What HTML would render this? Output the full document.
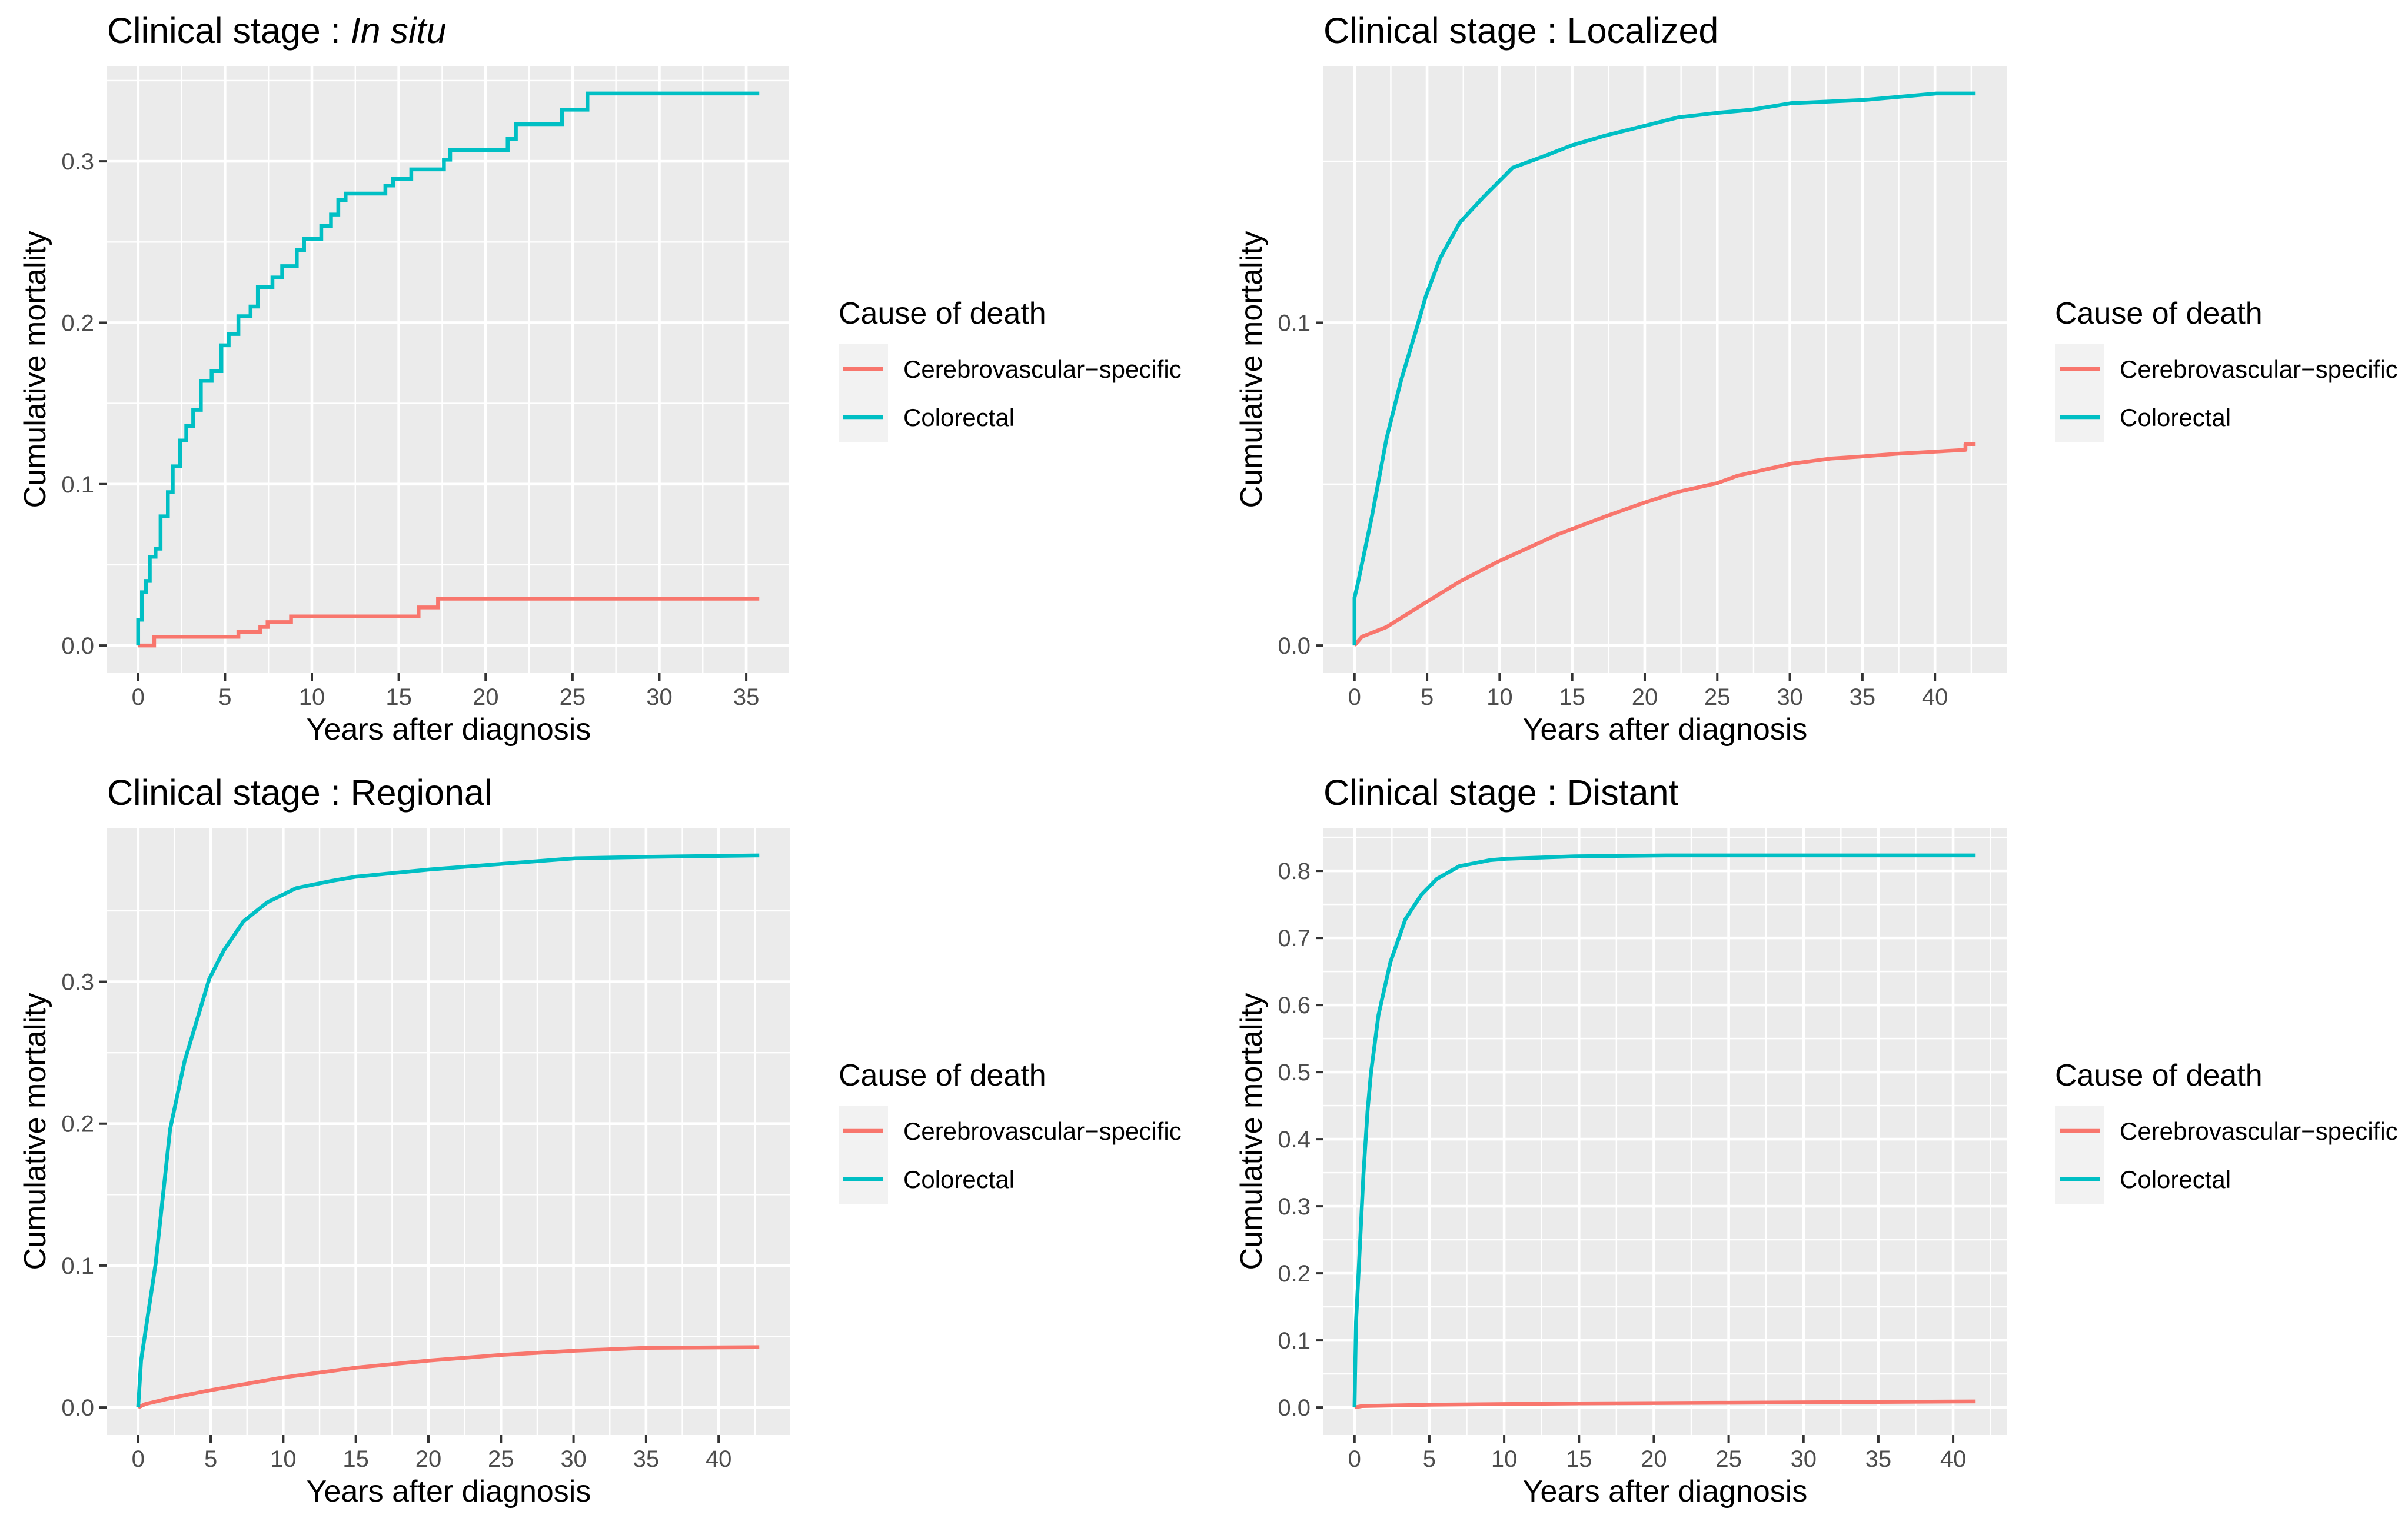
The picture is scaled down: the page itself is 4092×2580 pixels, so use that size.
<!DOCTYPE html>
<html><head><meta charset="utf-8"><style>
html,body{margin:0;padding:0;background:#fff;}
svg{display:block;font-family:"Liberation Sans",Arial,sans-serif;}
</style></head><body>
<svg id="fig" width="4092" height="2580" viewBox="0 0 4092 2580" xmlns="http://www.w3.org/2000/svg"></svg>
<script>
// ---- Panel data (years, cumulative mortality) ----
const p1CyanT = [0,0.22,0.45,0.67,1.0,1.29,1.71,1.99,2.41,2.77,3.17,3.61,4.23,4.79,5.21,5.77,6.47,6.89,7.73,8.29,9.13,9.55,10.54,11.10,11.52,11.94,14.23,14.68,15.72,17.60,17.96,21.27,21.74,24.40,25.86,35.75];
const p1CyanV = [0.016,0.033,0.040,0.055,0.060,0.080,0.095,0.111,0.127,0.136,0.146,0.164,0.170,0.186,0.193,0.204,0.210,0.222,0.228,0.235,0.245,0.252,0.260,0.267,0.276,0.280,0.285,0.289,0.295,0.301,0.307,0.314,0.323,0.332,0.342,0.342];
const p1RedT = [0,0.92,5.77,7.03,7.45,8.8,16.14,17.26,35.75];
const p1RedV = [0,0.0054,0.0085,0.0115,0.0145,0.018,0.0236,0.029,0.029];

const p2CyanT = [0,0,0.2,1.2,2.2,3.2,4.2,4.9,5.9,7.25,8.9,10.9,13.3,15,17.3,20,22.3,25,27.4,30.1,35.1,40.1,42.8];
const p2CyanV = [0,0.0148,0.0186,0.040,0.064,0.082,0.097,0.108,0.120,0.131,0.139,0.148,0.152,0.155,0.158,0.161,0.1636,0.165,0.166,0.168,0.169,0.171,0.171];
const p2RedT = [0,0.5,2.2,4.9,7.25,9.9,14,17.3,20,22.3,25,26.4,30.1,32.8,35.1,37.4,42.1,42.1,42.8];
const p2RedV = [0,0.0027,0.0057,0.0133,0.0198,0.026,0.0344,0.040,0.0443,0.0476,0.0503,0.0526,0.0563,0.0579,0.0586,0.0594,0.0606,0.0624,0.0624];

const p3CyanT = [0,0.2,1.2,2.2,3.2,4.2,4.9,5.9,7.25,8.9,10.9,13.3,15,20,25,30.1,35.1,42.8];
const p3CyanV = [0,0.033,0.101,0.196,0.244,0.278,0.302,0.322,0.3425,0.356,0.366,0.371,0.374,0.379,0.383,0.387,0.388,0.389];
const p3RedT = [0,0.5,2.2,4.9,9.9,15,20,25,30.1,35.1,42.8];
const p3RedV = [0,0.0024,0.0065,0.012,0.021,0.028,0.033,0.037,0.040,0.042,0.0425];

const p4CyanT = [0,0.1,0.36,0.6,0.87,1.1,1.6,2.4,3.4,4.45,5.5,7.0,9.05,10.1,14.7,20.8,41.5];
const p4CyanV = [0,0.127,0.241,0.349,0.442,0.499,0.585,0.664,0.728,0.764,0.788,0.807,0.816,0.818,0.8216,0.823,0.823];
const p4RedT = [0,0.5,5,15,25,41.5];
const p4RedV = [0,0.002,0.004,0.006,0.007,0.009];

const xTicks1 = [0,5,10,15,20,25,30,35];
const xTicks2 = [0,5,10,15,20,25,30,35,40];
const yTicks1 = [0,0.1,0.2,0.3];
const yTicks2 = [0,0.1];
const yTicks3 = [0,0.1,0.2,0.3];
const yTicks4 = [0,0.1,0.2,0.3,0.4,0.5,0.6,0.7,0.8];
const titles = ["Clinical stage : ","Clinical stage : Localized","Clinical stage : Regional","Clinical stage : Distant"];
const legendLabels = ["Cerebrovascular\u2212specific","Colorectal"];

const NS = "http://www.w3.org/2000/svg";
const RED = "#F8766D", CYAN = "#00BFC4";
const svg = document.getElementById("fig");
function mk(tag, attrs, parent){
  const e = document.createElementNS(NS, tag);
  for (const k in attrs) e.setAttribute(k, attrs[k]);
  (parent||svg).appendChild(e);
  return e;
}

function panel(ox, oy, idx, series, xTicks, yTicks, yStep, step){
  const g = mk("g", {transform:`translate(${ox},${oy})`});
  
  
  const L=182, R=1343, T=112, B=1144;
  let xmax=0, ymax=0;
  series.forEach(s=>{ s.t.forEach(v=>{xmax=Math.max(xmax,v);}); s.v.forEach(v=>{ymax=Math.max(ymax,v);}); });
  const x0=-0.05*xmax, x1=xmax*1.05, y0=-0.05*ymax, y1=ymax*1.05;
  const sx = v => L + (v-x0)/(x1-x0)*(R-L);
  const sy = v => B - (v-y0)/(y1-y0)*(B-T);
  const bg = mk("rect",{x:L,y:T,width:R-L,height:B-T,fill:"#EBEBEB"},g);
  
  
  const xs = xTicks[1]-xTicks[0];
  for (let v = xTicks[0]-xs/2; v <= x1; v += xs){ if (v < x0) continue;
    mk("line",{x1:sx(v),x2:sx(v),y1:T,y2:B,stroke:"#fff","stroke-width":2.4},g); }
  for (let v = -yStep/2; v <= y1; v += yStep){ if (v < y0) continue;
    mk("line",{x1:L,x2:R,y1:sy(v),y2:sy(v),stroke:"#fff","stroke-width":2.4},g); }
  xTicks.forEach(v=>mk("line",{x1:sx(v),x2:sx(v),y1:T,y2:B,stroke:"#fff","stroke-width":4.6},g));
  yTicks.forEach(v=>mk("line",{x1:L,x2:R,y1:sy(v),y2:sy(v),stroke:"#fff","stroke-width":4.6},g));
  xTicks.forEach(v=>{
    mk("line",{x1:sx(v),x2:sx(v),y1:B,y2:B+13,stroke:"#333","stroke-width":4},g);
    const t = mk("text",{x:sx(v),y:1198,"text-anchor":"middle","font-size":40,fill:"#4D4D4D"},g);
    t.textContent = String(v);
    
    
  });
  yTicks.forEach(v=>{
    mk("line",{x1:L-13,x2:L,y1:sy(v),y2:sy(v),stroke:"#333","stroke-width":4},g);
    const t = mk("text",{x:160,y:sy(v)+14,"text-anchor":"end","font-size":40,fill:"#4D4D4D"},g);
    t.textContent = v.toFixed(1);
    
    
  });
  series.forEach(s=>{
    let d = "";
    for (let i=0;i<s.t.length;i++){
      const X=sx(s.t[i]), Y=sy(s.v[i]);
      if (i===0) d += `M${X},${Y}`;
      else if (step) d += `H${X}V${Y}`;
      else d += `L${X},${Y}`;
    }
    if (step && s.t[0]===0) d = `M${sx(0)},${sy(0)}` + d.replace(/^M/,"L");
    const p = mk("path",{d:d,fill:"none",stroke:s.c,"stroke-width":6.5,"stroke-linejoin":step?"miter":"round"},g);
    
    
  });
  const tt = mk("text",{x:182,y:73,"font-size":61,fill:"#000"},g);
  
  
  tt.textContent = titles[idx];
  if (idx===0){ const ts = mk("tspan",{"font-style":"italic"},tt); ts.textContent="In situ"; }
  const xt = mk("text",{x:(L+R)/2,y:1257,"text-anchor":"middle","font-size":52,fill:"#000"},g);
  xt.textContent = "Years after diagnosis";
  
  
  const yt = mk("text",{x:0,y:0,"text-anchor":"middle","font-size":52,fill:"#000",transform:`translate(77,${(T+B)/2}) rotate(-90)`},g);
  yt.textContent = "Cumulative mortality";
  
  
  const lg = mk("g",{},g);
  
  
  const lt = mk("text",{x:1425,y:550,"font-size":52,fill:"#000"},lg);
  lt.textContent = "Cause of death";
  
  
  mk("rect",{x:1425,y:584,width:84,height:168,fill:"#F2F2F2"},lg);
  [[RED,627],[CYAN,709]].forEach((c,i)=>{
    const ln = mk("line",{x1:1433,x2:1501,y1:c[1],y2:c[1],stroke:c[0],"stroke-width":6.5},lg);
    
    
    const tx = mk("text",{x:1535,y:c[1]+15,"font-size":42,fill:"#000"},lg);
    tx.textContent = legendLabels[i];
    
    
  });
}

panel(0,0,0,[{t:p1RedT,v:p1RedV,c:RED,name:"cerebrovascular-line"},{t:p1CyanT,v:p1CyanV,c:CYAN,name:"colorectal-line"}],xTicks1,yTicks1,0.1,true);
panel(2067,0,1,[{t:p2RedT,v:p2RedV,c:RED,name:"cerebrovascular-line"},{t:p2CyanT,v:p2CyanV,c:CYAN,name:"colorectal-line"}],xTicks2,yTicks2,0.1,false);
panel(0,1295,2,[{t:p3RedT,v:p3RedV,c:RED,name:"cerebrovascular-line"},{t:p3CyanT,v:p3CyanV,c:CYAN,name:"colorectal-line"}],xTicks2,yTicks3,0.1,false);
panel(2067,1295,3,[{t:p4RedT,v:p4RedV,c:RED,name:"cerebrovascular-line"},{t:p4CyanT,v:p4CyanV,c:CYAN,name:"colorectal-line"}],xTicks2,yTicks4,0.1,false);
</script>
</body></html>
